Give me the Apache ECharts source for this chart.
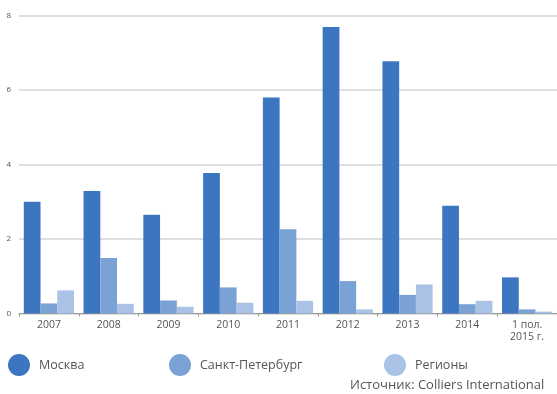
<!DOCTYPE html>
<html><head><meta charset="utf-8">
<script src="https://cdn.jsdelivr.net/npm/echarts@6/dist/echarts.min.js"></script>
<style>html,body{margin:0;padding:0;background:#fff}#c{width:557px;height:394px}</style>
</head><body><div id="c"></div>
<script>
const categories = ['2007','2008','2009','2010','2011','2012','2013','2014','1 пол.\n2015 г.'];
const moscow = [3.0, 3.29, 2.65, 3.77, 5.8, 7.69, 6.77, 2.89, 0.97];
const spb = [0.27, 1.49, 0.35, 0.7, 2.26, 0.87, 0.5, 0.25, 0.11];
const regions = [0.62, 0.26, 0.18, 0.29, 0.34, 0.11, 0.78, 0.34, 0.05];
const yTicks = [0, 2, 4, 6, 8];
const seriesNames = ['Москва', 'Санкт-Петербург', 'Регионы'];
const colors = ['#3d76c0', '#7aa2d5', '#a9c2e5'];
const font = 'Open Sans, Liberation Sans, sans-serif';

const chart = echarts.init(document.getElementById('c'));
function leg(name, left) {
  return {
    data: [name], left: left, top: 349, icon: 'circle', itemWidth: 22, itemHeight: 22,
    textStyle: { fontFamily: font, fontSize: 12.5, color: '#555', padding: [0, 0, 0, 4] },
    selectedMode: false
  };
}
chart.setOption({
  animation: false,
  textStyle: { fontFamily: font },
  legend: [leg(seriesNames[0], 3), leg(seriesNames[1], 164), leg(seriesNames[2], 379)],
  grid: { left: 19, right: -9, top: 15.5, bottom: 80.5, containLabel: false },
  xAxis: {
    type: 'category', data: categories,
    axisLine: { lineStyle: { color: '#999' } },
    axisTick: { show: true, length: 3, lineStyle: { color: '#999' } },
    axisLabel: { fontSize: 10.5, color: '#555', margin: 6, lineHeight: 12, fontFamily: font }
  },
  yAxis: {
    type: 'value', min: 0, max: 8, interval: 2,
    axisLine: { show: false }, axisTick: { show: false },
    axisLabel: { fontSize: 8, color: '#555', margin: 8, fontFamily: font,
      formatter: v => yTicks.includes(v) ? String(v) : '' },
    splitLine: { lineStyle: { color: '#d4d4d4', width: 1.5 } }
  },
  series: seriesNames.map((n, i) => ({
    name: n, type: 'bar', data: [moscow, spb, regions][i],
    itemStyle: { color: colors[i] }, barGap: '0%', barCategoryGap: '16%'
  })),
  graphic: [{
    type: 'text', left: 350, top: 379,
    style: { text: 'Источник: Colliers International', fontSize: 13, fill: '#555', fontFamily: font }
  }]
});
</script></body></html>
